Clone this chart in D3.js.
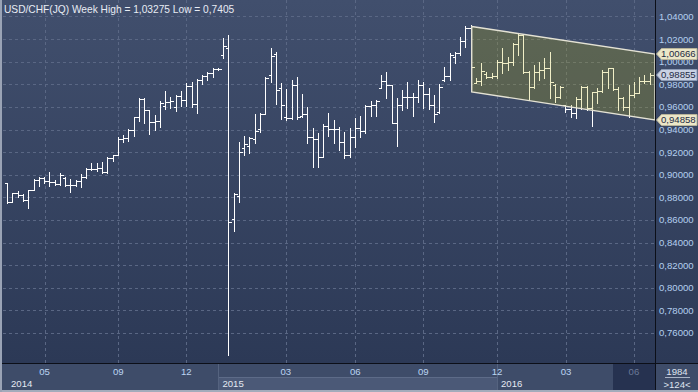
<!DOCTYPE html>
<html>
<head>
<meta charset="utf-8">
<script src="https://cdn.jsdelivr.net/npm/d3@7"></script>
<style>
  body { margin: 0; background: #2e3b58; }
  svg { display: block; }
  text { font-family: "Liberation Sans", Arial, sans-serif; }
</style>
</head>
<body>
<svg id="chart" width="698" height="392"></svg>
<script>
// weekly OHLC, USD/CHF
const opens = [
  0.8924,0.8756,0.8835,0.8820,0.8776,0.8865,0.8953,0.8968,0.8947,0.8938,
  0.8918,0.8971,0.8909,0.8909,0.8947,0.8982,0.9048,0.9050,0.9057,0.9027,
  0.9145,0.9174,0.9313,0.9322,0.9398,0.9508,0.9667,0.9573,0.9469,0.9478,
  0.9608,0.9646,0.9597,0.9697,0.9661,0.9785,0.9626,0.9838,0.9874,0.9903,
  0.9935,1.0059,1.0119,0.8605,0.8814,0.9234,0.9254,0.9316,0.9402,0.9535,
  0.9882,1.0066,0.9770,0.9513,0.9504,0.9791,0.9522,0.9537,0.9331,0.9313,
  0.9159,0.9431,0.9404,0.9404,0.9287,0.9174,0.9331,0.9411,0.9387,0.9611,
  0.9617,0.9767,0.9829,0.9794,0.9460,0.9617,0.9685,0.9685,0.9685,0.9794,
  0.9714,0.9617,0.9555,0.9838,0.9874,1.0042,1.0074,1.0186,1.0296,0.9812,
  0.9829,0.9891,0.9867,0.9876,1.0000,0.9986,1.0000,1.0154,1.0236,0.9912,
  0.9774,0.9912,0.9927,0.9942,0.9794,0.9685,0.9617,0.9579,0.9543,0.9667,
  0.9779,0.9588,0.9735,0.9743,0.9912,0.9942,0.9758,0.9676,0.9602,0.9705,
  0.9720,0.9832,0.9832
];
const highs = [
  0.8924,0.8841,0.8858,0.8829,0.8865,0.8959,0.8977,0.8982,0.9027,0.8953,
  0.9012,0.8980,0.8959,0.8953,0.9004,0.9057,0.9106,0.9106,0.9115,0.9159,
  0.9174,0.9336,0.9351,0.9402,0.9513,0.9676,0.9676,0.9573,0.9528,0.9655,
  0.9741,0.9690,0.9705,0.9741,0.9814,0.9823,0.9844,0.9882,0.9912,0.9942,
  0.9942,1.0207,1.0236,0.8835,0.9292,0.9343,0.9336,0.9535,0.9543,0.9867,
  1.0119,1.0083,0.9814,0.9758,0.9838,0.9862,0.9714,0.9597,0.9416,0.9366,
  0.9449,0.9543,0.9484,0.9425,0.9381,0.9411,0.9499,0.9520,0.9617,0.9655,
  0.9661,0.9882,0.9906,0.9794,0.9676,0.9750,0.9823,0.9720,0.9838,0.9823,
  0.9765,0.9705,0.9803,0.9956,1.0074,1.0089,1.0216,1.0316,1.03275,0.9853,
  0.9986,0.9912,0.9897,1.0015,1.0119,1.0044,1.0163,1.0251,1.0245,0.9918,
  0.9971,1.0000,1.0030,1.0089,0.9800,0.9785,0.9617,0.9617,0.9685,0.9785,
  0.9785,0.9735,0.9765,0.9927,0.9942,0.9942,0.9779,0.9690,0.9794,0.9823,
  0.9867,0.9882,0.9897
];
const lows = [
  0.8747,0.8756,0.8805,0.8767,0.8703,0.8865,0.8900,0.8924,0.8900,0.8909,
  0.8909,0.8903,0.8850,0.8900,0.8894,0.8968,0.9042,0.9033,0.9018,0.9018,
  0.9124,0.9174,0.9292,0.9298,0.9345,0.9478,0.9460,0.9360,0.9396,0.9425,
  0.9579,0.9588,0.9566,0.9608,0.9608,0.9602,0.9549,0.9800,0.9838,0.9862,
  0.9927,1.0030,0.7405,0.8504,0.8761,0.9174,0.9189,0.9278,0.9381,0.9535,
  0.9818,0.9623,0.9490,0.9484,0.9490,0.9493,0.9513,0.9278,0.9066,0.9071,
  0.9159,0.9343,0.9278,0.9219,0.9145,0.9159,0.9248,0.9336,0.9366,0.9520,
  0.9520,0.9765,0.9676,0.9460,0.9254,0.9573,0.9588,0.9520,0.9646,0.9588,
  0.9579,0.9469,0.9549,0.9832,0.9838,0.9986,1.0059,1.0133,0.9794,0.9809,
  0.9794,0.9853,0.9853,0.9853,0.9897,0.9927,0.9971,1.0059,0.9897,0.9661,
  0.9765,0.9838,0.9853,0.9676,0.9646,0.9676,0.9558,0.9513,0.9499,0.9579,
  0.9573,0.9431,0.9632,0.9735,0.9765,0.9750,0.9573,0.9573,0.9513,0.9690,
  0.9720,0.9809,0.9803
];
const closes = [
  0.8756,0.8835,0.8820,0.8776,0.8865,0.8953,0.8968,0.8947,0.8938,0.8918,
  0.8997,0.8909,0.8909,0.8947,0.8982,0.9048,0.9050,0.9057,0.9027,0.9145,
  0.9174,0.9313,0.9322,0.9398,0.9508,0.9667,0.9573,0.9469,0.9478,0.9637,
  0.9646,0.9655,0.9697,0.9661,0.9785,0.9626,0.9838,0.9874,0.9903,0.9935,
  0.9933,1.0139,0.8584,0.8827,0.9198,0.9269,0.9322,0.9387,0.9535,0.9853,
  1.0051,0.9750,0.9614,0.9504,0.9791,0.9513,0.9537,0.9331,0.9313,0.9159,
  0.9431,0.9404,0.9404,0.9287,0.9174,0.9331,0.9411,0.9387,0.9611,0.9617,
  0.9655,0.9829,0.9794,0.9460,0.9617,0.9685,0.9685,0.9685,0.9794,0.9714,
  0.9617,0.9537,0.9779,0.9874,1.0059,1.0074,1.0186,1.0296,0.9956,0.9829,
  0.9920,0.9867,0.9876,1.0000,0.9986,1.0000,1.0154,1.0236,0.9912,0.9774,
  0.9912,0.9927,0.9942,0.9823,0.9685,0.9779,0.9579,0.9543,0.9667,0.9779,
  0.9588,0.9735,0.9743,0.9912,0.9942,0.9758,0.9676,0.9602,0.9705,0.9720,
  0.9832,0.9832,0.98855
];

// x axis: bar-index positions of the month ticks, and year boxes
const monthTicks = [7.1, 21.1, 34, 52.9, 66.1, 79, 93, 106.1, 119];
const monthLabels = ['05', '09', '12', '03', '06', '09', '12', '03', '06'];
const yearStarts = [-0.8, 40.1, 93];
const yearLabels = ['2014', '2015', '2016'];

// y axis
const yTicks = [0.76, 0.78, 0.80, 0.82, 0.84, 0.86, 0.88, 0.90, 0.92, 0.94, 0.96, 0.98, 1.00, 1.02, 1.04];

// trend channel (bar index -> value)
const channelIdx = [88.2, 123];
const channelUpper = [1.0312, 1.00666];
const channelLower = [0.9733, 0.94858];

const title = 'USD/CHF(JQ) Week High = 1,03275 Low = 0,7405';

const W = 698, H = 392;
const plotL = 3, plotR = 655, plotB = 363, axisB = 390;

const svg = d3.select('#chart');
const x = d3.scaleLinear().domain([-0.8, 123]).range([plotL, plotR]);
const y = d3.scaleLinear().domain([0.7334, 1.0546]).range([plotB, 0]);
const fmt = v => d3.format('.5f')(v).replace('.', ',');

const defs = svg.append('defs');
const grad = defs.append('linearGradient').attr('id', 'bg').attr('x1', 0).attr('y1', 0).attr('x2', 0).attr('y2', 1);
grad.append('stop').attr('offset', '0%').attr('stop-color', '#414f6d');
grad.append('stop').attr('offset', '100%').attr('stop-color', '#2c3956');

svg.append('rect').attr('width', W).attr('height', H).attr('fill', '#3e4c69');
svg.append('rect').attr('x', 0).attr('y', 0).attr('width', W).attr('height', plotB).attr('fill', 'url(#bg)');

// grid
const grid = svg.append('g').attr('stroke', '#5a6784').attr('stroke-dasharray', '3,3').attr('shape-rendering', 'crispEdges');
grid.selectAll('.h').data(yTicks).join('line')
  .attr('x1', plotL).attr('x2', plotR)
  .attr('y1', d => Math.round(y(d)) + 0.5).attr('y2', d => Math.round(y(d)) + 0.5);
grid.selectAll('.v').data(monthTicks).join('line')
  .attr('y1', 0).attr('y2', plotB)
  .attr('x1', d => Math.round(x(d)) + 0.5).attr('x2', d => Math.round(x(d)) + 0.5);

// OHLC bars
const bars = d3.range(opens.length).map(i => ({ i, o: opens[i], h: highs[i], l: lows[i], c: closes[i] }));
svg.append('g').attr('stroke', '#ffffff').attr('stroke-width', 1).attr('fill', 'none')
  .attr('shape-rendering', 'crispEdges')
  .selectAll('path').data(bars).join('path')
  .attr('d', d => {
    const cx = Math.round(x(d.i)) + 0.5;
    const yo = Math.round(y(d.o)) + 0.5, yc = Math.round(y(d.c)) + 0.5;
    return `M${cx},${Math.round(y(d.h))}V${Math.round(y(d.l)) + 1}` +
      `M${cx - 3},${yo}H${cx}M${cx},${yc}H${cx + 3}`;
  });

// channel overlay
const chPts = [
  [x(channelIdx[0]), y(channelUpper[0])], [x(channelIdx[1]), y(channelUpper[1])],
  [x(channelIdx[1]), y(channelLower[1])], [x(channelIdx[0]), y(channelLower[0])]
];
svg.append('polygon').attr('points', chPts.map(p => p.join(',')).join(' '))
  .attr('fill', 'rgb(190,180,10)').attr('fill-opacity', 0.23)
  .attr('stroke', '#e4e2d4').attr('stroke-width', 1.4);

// right panel background
svg.append('rect').attr('x', plotR).attr('y', 0).attr('width', W - plotR).attr('height', plotB).attr('fill', 'url(#bg)');

// y labels
svg.append('g').selectAll('text').data(yTicks).join('text')
  .attr('x', 659).attr('y', d => y(d)).attr('dy', '0.36em')
  .attr('font-size', 9.6).attr('fill', '#b4cfef').text(fmt);

// price tags (they sit over the axis labels, as in the original)
const tags = [
  { v: channelUpper[1], bg: '#ece7c8', stroke: '#b8b49a' },
  { v: closes[closes.length - 1], bg: '#c9d2e3', stroke: '#8c9ab4' },
  { v: channelLower[1], bg: '#ece7c8', stroke: '#b8b49a' }
];
const tg = svg.append('g').selectAll('g').data(tags).join('g')
  .attr('transform', d => `translate(0,${Math.round(y(d.v))})`);
tg.append('path')
  .attr('d', 'M656.5,0L661.5,-5.5H697V5.5H661.5Z')
  .attr('fill', d => d.bg).attr('stroke', d => d.stroke);
tg.append('text').attr('x', 661).attr('dy', '0.36em').attr('font-size', 9.6)
  .attr('fill', '#1e2b44').text(d => fmt(d.v));

// bottom axis strip
const axisG = svg.append('g').attr('shape-rendering', 'crispEdges');
axisG.append('rect').attr('x', 0).attr('y', plotB).attr('width', W).attr('height', axisB - plotB).attr('fill', '#3e4c69');
// year boxes (second row of the middle year is shaded)
axisG.append('rect').attr('x', x(yearStarts[1])).attr('y', 377)
  .attr('width', x(yearStarts[2]) - x(yearStarts[1])).attr('height', axisB - 377)
  .attr('fill', '#4b5977').attr('stroke', '#5d6b88');
yearStarts.slice(1).forEach(s => {
  axisG.append('line').attr('x1', Math.round(x(s)) + 0.5).attr('x2', Math.round(x(s)) + 0.5)
    .attr('y1', plotB).attr('y2', axisB).attr('stroke', '#55637f');
});
// dark box at the right end of the time axis
axisG.append('rect').attr('x', 613).attr('y', plotB + 1).attr('width', plotR - 613).attr('height', axisB - plotB - 1)
  .attr('fill', '#263250');

svg.append('g').selectAll('text').data(monthTicks).join('text')
  .attr('x', d => x(d)).attr('y', 375).attr('text-anchor', 'middle')
  .attr('font-size', 9.6)
  .attr('fill', (d, i) => i === monthTicks.length - 1 ? '#6a7897' : '#bcd4f2')
  .text((d, i) => monthLabels[i]);
svg.append('g').selectAll('text').data(yearStarts).join('text')
  .attr('x', (d, i) => i === 0 ? 11 : x(d) + 4).attr('y', 387)
  .attr('font-size', 9.6).attr('fill', '#e4e9f2')
  .text((d, i) => yearLabels[i]);

// bottom-right counter box
svg.append('text').attr('x', 677).attr('y', 375).attr('text-anchor', 'middle')
  .attr('font-size', 9.6).attr('fill', '#dfe5f0').text('1984');
svg.append('line').attr('x1', 665).attr('x2', 690).attr('y1', 377.5).attr('y2', 377.5)
  .attr('stroke', '#aab4c6');
svg.append('text').attr('x', 677).attr('y', 388).attr('text-anchor', 'middle')
  .attr('font-size', 9.6).attr('fill', '#dfe5f0').text('>124<');

// frame lines
svg.append('line').attr('x1', 0).attr('x2', W).attr('y1', plotB + 0.5).attr('y2', plotB + 0.5).attr('stroke', '#0c0f18');
svg.append('line').attr('x1', plotR + 0.5).attr('x2', plotR + 0.5).attr('y1', 0).attr('y2', axisB).attr('stroke', '#0c0f18');
svg.append('rect').attr('x', 0).attr('y', axisB).attr('width', W).attr('height', H - axisB).attr('fill', '#a3abbb');
svg.append('rect').attr('x', 0).attr('y', 0).attr('width', 2).attr('height', H).attr('fill', '#9aa3b5');

// title
svg.append('text').attr('x', 4).attr('y', 13).attr('font-size', 10.2)
  .attr('fill', '#e8ecf4').text(title);
</script>
</body>
</html>
